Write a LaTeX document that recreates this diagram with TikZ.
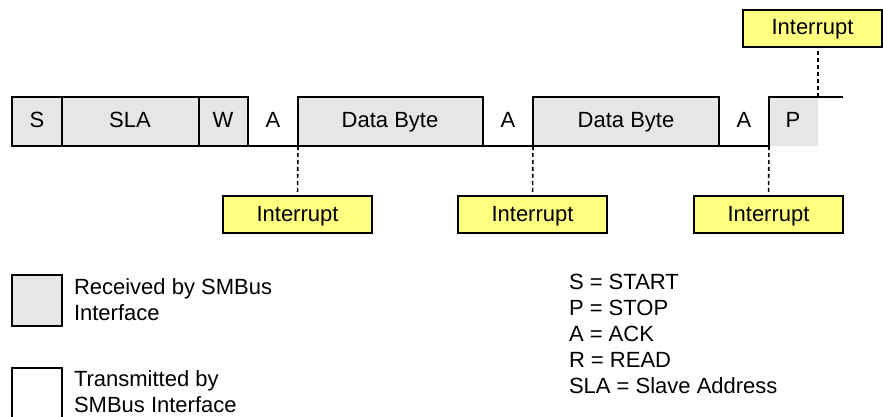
\documentclass[tikz,border=0pt]{standalone}
\usepackage{fontspec}
\setmainfont{Liberation Sans}
\definecolor{rxgray}{HTML}{E6E6E6}
\definecolor{intyellow}{HTML}{FFFF80}
\begin{document}
\begin{tikzpicture}[x=1pt,y=-1pt,
  every node/.style={font=\fontsize{22}{26}\selectfont, inner sep=0pt, outer sep=0pt},
  rxbox/.style={draw, line width=1.6pt, fill=rxgray, minimum height=49pt, anchor=north west},
  lbl/.style={anchor=base},
  intbox/.style={draw, line width=1.6pt, fill=intyellow, minimum height=37pt, anchor=north west},
  frame/.style={line width=1.6pt},
  dashline/.style={line width=1.6pt, dash pattern=on 4pt off 3pt},
  legbox/.style={draw, line width=1.6pt, minimum width=50pt, minimum height=51pt, anchor=north west},
  legtxt/.style={anchor=base west, align=left}
]
\useasboundingbox (0,0) rectangle (883,417);
\clip (0,0) rectangle (883,417);
% received boxes
\node[rxbox, minimum width=50pt]  (S)   at (12,97)  {};
\node[rxbox, minimum width=137pt] (SLA) at (62,97)  {};
\node[rxbox, minimum width=49pt]  (W)   at (199,97) {};
\node[rxbox, minimum width=185pt] (D1)  at (298,97) {};
\node[rxbox, minimum width=186pt] (D2)  at (533,97) {};
\node[fill=rxgray, minimum width=49pt, minimum height=49pt, anchor=north west] (P) at (769,97) {};
% labels
\node[lbl] (tS)   at (37,128)  {S};
\node[lbl] (tSLA) at (130,128) {SLA};
\node[lbl] (tW)   at (223,128) {W};
\node[lbl] (tA1)  at (273,128) {A};
\node[lbl] (tD1)  at (390,128) {Data Byte};
\node[lbl] (tA2)  at (508,128) {A};
\node[lbl] (tD2)  at (626,128) {Data Byte};
\node[lbl] (tA3)  at (744,128) {A};
\node[lbl] (tP)   at (793,128) {P};
% bus lines
\coordinate (pend) at (843,97);
\draw[frame] (W.south east) -- (D1.south west);
\draw[frame] (D1.south east) -- (D2.south west);
\draw[frame] (D2.south east) -- (P.south west) -- (P.north west) -- (pend);
% interrupts
\node[intbox, minimum width=149pt] (I1) at (223,196) {};
\node[intbox, minimum width=149pt] (I2) at (458,196) {};
\node[intbox, minimum width=149pt] (I3) at (694,196) {};
\node[intbox, minimum width=139pt] (I4) at (743,10)  {};
\node[lbl] at ([yshift=-6.5pt]I1.center) {Interrupt};
\node[lbl] at ([yshift=-6.5pt]I2.center) {Interrupt};
\node[lbl] at ([yshift=-6.5pt]I3.center) {Interrupt};
\node[lbl] at ([yshift=-6.5pt]I4.center) {Interrupt};
\draw[dashline] (D1.south west) -- (I1.north);
\draw[dashline] (D2.south west) -- (I2.north);
\draw[dashline] (P.south west) -- (I3.north);
\draw[dashline] (P.north east) -- (P.north east |- I4.south);
% legend
\node[legbox, fill=rxgray] (LR) at (12,275) {};
\node[legbox] (LT) at (12,368) {};
\node[legtxt] (LRt) at (74,320) {Received by SMBus\\Interface};
\node[legtxt] (LTt) at (74,412) {Transmitted by\\SMBus Interface};
\node[legtxt] (key) at (569,393) {S = START\\P = STOP\\A = ACK\\R = READ\\SLA = Slave Address};
\end{tikzpicture}
\end{document}
